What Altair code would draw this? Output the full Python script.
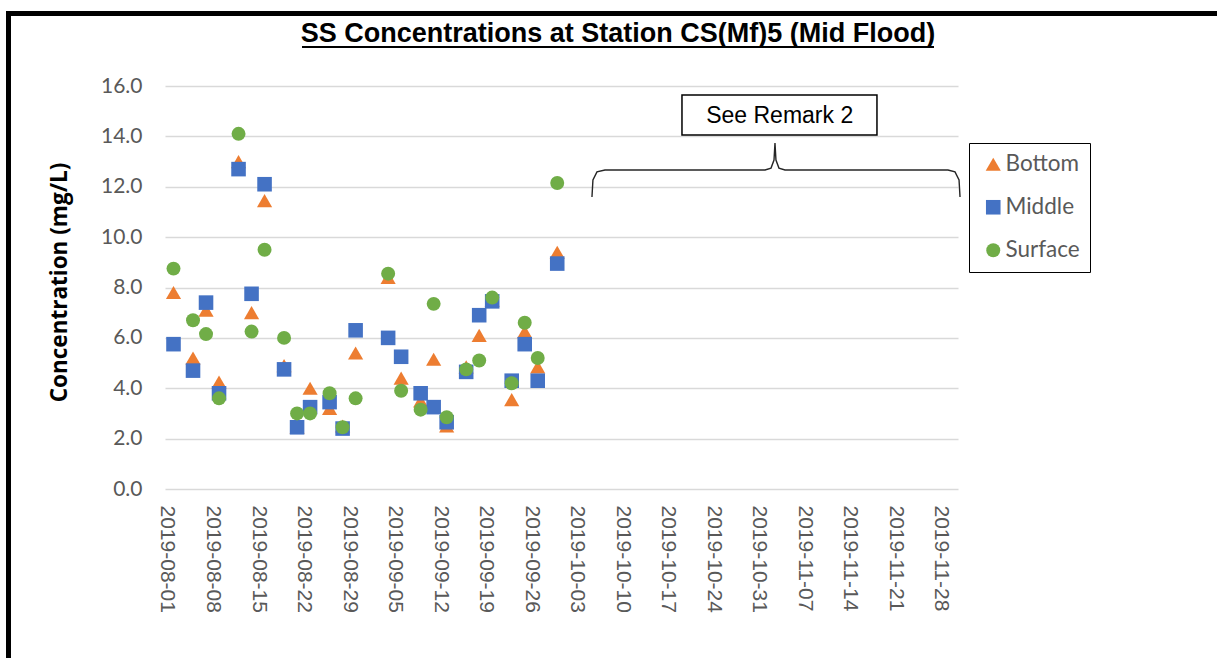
import altair as alt
import pandas as pd

# Sampling dates and suspended-solids concentrations (mg/L) at three depths
dates = [
    "2019-08-02", "2019-08-05", "2019-08-07", "2019-08-09", "2019-08-12",
    "2019-08-14", "2019-08-16", "2019-08-19", "2019-08-21", "2019-08-23",
    "2019-08-26", "2019-08-28", "2019-08-30", "2019-09-04", "2019-09-06",
    "2019-09-09", "2019-09-11", "2019-09-13", "2019-09-16", "2019-09-18",
    "2019-09-20", "2019-09-23", "2019-09-25", "2019-09-27", "2019-09-30",
]
bottom = [7.8, 5.2, 7.1, 4.25, 13.0, 7.0, 11.45, 4.9, 2.45, 4.0,
          3.2, 2.5, 5.4, 8.4, 4.4, 3.5, 5.15, 2.5, 4.85, 6.1,
          7.5, 3.55, 6.25, 4.85, 9.4]
middle = [5.75, 4.7, 7.4, 3.8, 12.7, 7.75, 12.1, 4.75, 2.45, 3.25,
          3.45, 2.4, 6.3, 6.0, 5.25, 3.8, 3.25, 2.65, 4.65, 6.9,
          7.45, 4.3, 5.75, 4.3, 8.95]
surface = [8.75, 6.7, 6.15, 3.6, 14.1, 6.25, 9.5, 6.0, 3.0, 3.0,
           3.8, 2.45, 3.6, 8.55, 3.9, 3.15, 7.35, 2.85, 4.75, 5.1,
           7.6, 4.2, 6.6, 5.2, 12.15]

depths = ["Bottom", "Middle", "Surface"]
depth_colors = ["#ED7D31", "#4472C4", "#70AD47"]
depth_shapes = ["triangle-up", "square", "circle"]
depth_sizes = [230, 195, 185]

title_text = "SS Concentrations at Station CS(Mf)5 (Mid Flood)"
remark_text = "See Remark 2"

# Weekly axis labels
tick_dates = pd.date_range("2019-08-01", "2019-11-28", freq="7D", tz="UTC")

# Curly brace over the period without data (day offsets from 2019-08-01, mg/L)
brace_days = [65.34, 65.49, 66.11, 67.34, 91.95, 92.87, 93.33, 93.48,
              93.63, 94.09, 95.02, 120.08, 121.16, 121.78, 121.93]
brace_vals = [11.59, 12.27, 12.59, 12.665, 12.665, 12.74, 13.06, 13.74,
              13.06, 12.74, 12.665, 12.665, 12.59, 12.27, 11.59]

# ---------------------------------------------------------------------------
base_day = pd.Timestamp("2019-08-01", tz="UTC")


def ms(ts):
    return int(ts.value // 10**6)


def day_stamp(d):
    return (base_day + pd.to_timedelta(d, unit="D")).strftime("%Y-%m-%dT%H:%M:%SZ")


rows = []
for name, series in zip(depths, [bottom, middle, surface]):
    for d, v in zip(dates, series):
        rows.append({"Date": d, "Concentration": v, "Depth": name})
points_df = pd.DataFrame(rows)

x_domain = [ms(base_day - pd.Timedelta(days=0.3075)),
            ms(base_day + pd.Timedelta(days=121.62))]
x_scale = alt.Scale(type="utc", domain=x_domain)
y_scale = alt.Scale(domain=[0, 16], nice=False)

legend_style = dict(
    title=None,
    orient="none",
    legendX=804,
    legendY=57,
    fillColor="white",
    strokeColor="black",
    padding=10,
    rowPadding=20,
    symbolOffset=3,
    labelOffset=1,
    labelFont="Lato",
    labelFontSize=22.5,
    labelColor="#595959",
)

points = alt.Chart(points_df).mark_point(
    filled=True, opacity=1, strokeWidth=0
).encode(
    x=alt.X(
        "Date:T",
        scale=x_scale,
        title=None,
        axis=alt.Axis(
            values=[ms(t) for t in tick_dates],
            labelExpr="utcFormat(datum.value, '%Y-%m-%d')",
            labelAngle=90,
            labelPadding=16,
            labelFont="Liberation Sans",
            labelFontSize=21,
            labelColor="#595959",
            grid=False,
            ticks=False,
            domain=False,
        ),
    ),
    y=alt.Y(
        "Concentration:Q",
        scale=y_scale,
        axis=alt.Axis(
            title="Concentration (mg/L)",
            values=list(range(0, 17, 2)),
            format=".1f",
            labelFont="Lato",
            labelFontSize=21,
            labelColor="#595959",
            labelPadding=23,
            grid=True,
            gridColor="#D9D9D9",
            gridWidth=1.3,
            ticks=False,
            domain=False,
            titleFont="Open Sans",
            titleFontSize=22.5,
            titleFontWeight="bold",
            titleColor="black",
            titleX=-106,
            titleY=196,
            titleAlign="center",
            titleBaseline="middle",
            titleAngle=270,
        ),
    ),
    color=alt.Color(
        "Depth:N",
        scale=alt.Scale(domain=depths, range=depth_colors),
        legend=alt.Legend(**legend_style),
    ),
    shape=alt.Shape(
        "Depth:N",
        scale=alt.Scale(domain=depths, range=depth_shapes),
        legend=alt.Legend(**legend_style),
    ),
    size=alt.Size(
        "Depth:N",
        scale=alt.Scale(domain=depths, range=depth_sizes),
        legend=alt.Legend(**legend_style),
    ),
)

brace_df = pd.DataFrame({
    "i": list(range(len(brace_days))),
    "Date": [day_stamp(d) for d in brace_days],
    "Concentration": brace_vals,
})
brace = alt.Chart(brace_df).mark_line(color="#262626", strokeWidth=1.4).encode(
    x=alt.X("Date:T", scale=x_scale),
    y=alt.Y("Concentration:Q", scale=y_scale),
    order="i:Q",
)

remark_df = pd.DataFrame({
    "x1": [day_stamp(79.18)], "x2": [day_stamp(109.16)],
    "y1": [14.05], "y2": [15.64],
    "xm": [day_stamp(94.2)], "ym": [14.81], "label": [remark_text],
})
remark_box = alt.Chart(remark_df).mark_rect(
    fill="white", stroke="black", strokeWidth=1.5
).encode(
    x=alt.X("x1:T", scale=x_scale), x2="x2:T",
    y=alt.Y("y1:Q", scale=y_scale), y2="y2:Q",
)
remark_label = alt.Chart(remark_df).mark_text(
    font="Liberation Sans", fontSize=23, color="black", baseline="middle"
).encode(
    x=alt.X("xm:T", scale=x_scale),
    y=alt.Y("ym:Q", scale=y_scale),
    text="label:N",
)

one = pd.DataFrame({"k": [0], "title": [title_text]})
# Chart title with its underline, and the frame around the figure
title_mark = alt.Chart(one).mark_text(
    font="Liberation Sans", fontSize=27, fontWeight="bold", color="black",
    align="center", baseline="alphabetic",
).encode(x=alt.value(453), y=alt.value(-44), text="title:N")
underline = alt.Chart(one).mark_rule(color="black", strokeWidth=2).encode(
    x=alt.value(137), x2=alt.value(769), y=alt.value(-39)
)
frame_top = alt.Chart(one).mark_rule(color="black", strokeWidth=5).encode(
    x=alt.value(-159), x2=alt.value(1052), y=alt.value(-72.5)
)
frame_left = alt.Chart(one).mark_rule(color="black", strokeWidth=5).encode(
    x=alt.value(-156.5), y=alt.value(-75), y2=alt.value(572)
)

chart = alt.layer(
    remark_box, remark_label, brace, points,
    title_mark, underline, frame_top, frame_left
).properties(
    width=793,
    height=403,
    padding={"left": 165, "top": 86, "right": 259, "bottom": 169},
    autosize=alt.AutoSizeParams(type="none"),
    background="white",
).configure_view(stroke=None)

chart.save("out.html", embed_options={"renderer": "svg", "actions": False})
